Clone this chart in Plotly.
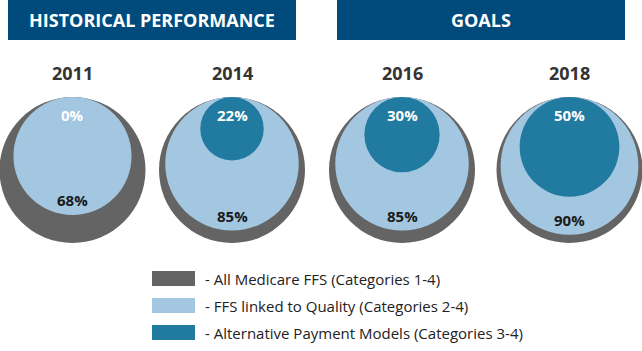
import plotly.graph_objects as go

# ---- data ----
years = ["2011", "2014", "2016", "2018"]
all_ffs = [100, 100, 100, 100]          # All Medicare FFS (Categories 1-4)
quality = [68, 85, 85, 90]              # FFS linked to Quality (Categories 2-4)
apm = [0, 22, 30, 50]                   # Alternative Payment Models (Categories 3-4)
series_names = [
    "- All Medicare FFS (Categories 1-4)",
    "- FFS linked to Quality (Categories 2-4)",
    "- Alternative Payment Models (Categories 3-4)",
]
section_titles = ["HISTORICAL PERFORMANCE", "GOALS"]

# ---- layout / style ----
W, H = 642, 351
col_x = [72.5, 232, 402, 569.5]
top_y = 97
R_FULL = 73
EXP = 0.55
C_GRAY = "#646464"
C_LIGHT = "#a3c7e0"
C_DARK = "#217a9f"
C_HEAD = "#004b7b"
FONT = "Open Sans"


def radius(p):
    return R_FULL * (p / 100.0) ** EXP


fig = go.Figure()
shapes = []
annotations = []

# section header boxes
for (x0, x1), title in zip([(8, 296), (337, 625)], section_titles):
    shapes.append(dict(type="rect", xref="x", yref="y", x0=x0, x1=x1, y0=0, y1=40,
                       fillcolor=C_HEAD, line=dict(width=0), layer="below"))
    annotations.append(dict(x=(x0 + x1) / 2, y=20, xref="x", yref="y", text="<b>%s</b>" % title,
                            showarrow=False, font=dict(family=FONT, size=18, color="white"),
                            xanchor="center", yanchor="middle"))

for cx, yr, a, q, m in zip(col_x, years, all_ffs, quality, apm):
    # year label
    annotations.append(dict(x=cx, y=73, xref="x", yref="y", text="<b>%s</b>" % yr, showarrow=False,
                            font=dict(family=FONT, size=18, color="#333333"),
                            xanchor="center", yanchor="middle"))
    for val, col in [(a, C_GRAY), (q, C_LIGHT), (m, C_DARK)]:
        r = radius(val)
        if r <= 0:
            continue
        shapes.append(dict(type="circle", xref="x", yref="y", x0=cx - r, x1=cx + r,
                           y0=top_y, y1=top_y + 2 * r, fillcolor=col, line=dict(width=0),
                           layer="below"))
    # APM label (top)
    annotations.append(dict(x=cx, y=top_y + 18, xref="x", yref="y", text="<b>%d%%</b>" % m,
                            showarrow=False, font=dict(family=FONT, size=15, color="white"),
                            xanchor="center", yanchor="middle"))
    # quality label (bottom)
    annotations.append(dict(x=cx, y=top_y + 2 * radius(q) - 15, xref="x", yref="y",
                            text="<b>%d%%</b>" % q, showarrow=False,
                            font=dict(family=FONT, size=15, color="#1a1a1a"),
                            xanchor="center", yanchor="middle"))

# legend
for i, (name, col) in enumerate(zip(series_names, [C_GRAY, C_LIGHT, C_DARK])):
    y0 = 271 + 27 * i
    shapes.append(dict(type="rect", xref="x", yref="y", x0=152, x1=195, y0=y0, y1=y0 + 15,
                       fillcolor=col, line=dict(width=0), layer="below"))
    annotations.append(dict(x=203, y=y0 + 7.5, xref="x", yref="y", text=name, showarrow=False,
                            font=dict(family=FONT, size=15, color="#222222"),
                            xanchor="left", yanchor="middle"))

fig.add_trace(go.Scatter(x=[0], y=[0], mode="markers", marker=dict(opacity=0),
                         hoverinfo="skip", showlegend=False))

fig.update_layout(
    width=W, height=H, margin=dict(l=0, r=0, t=0, b=0),
    paper_bgcolor="white", plot_bgcolor="white",
    xaxis=dict(range=[0, W], visible=False, fixedrange=True),
    yaxis=dict(range=[H, 0], visible=False, fixedrange=True),
    shapes=shapes, annotations=annotations, showlegend=False,
)

fig.write_html("out.html")
